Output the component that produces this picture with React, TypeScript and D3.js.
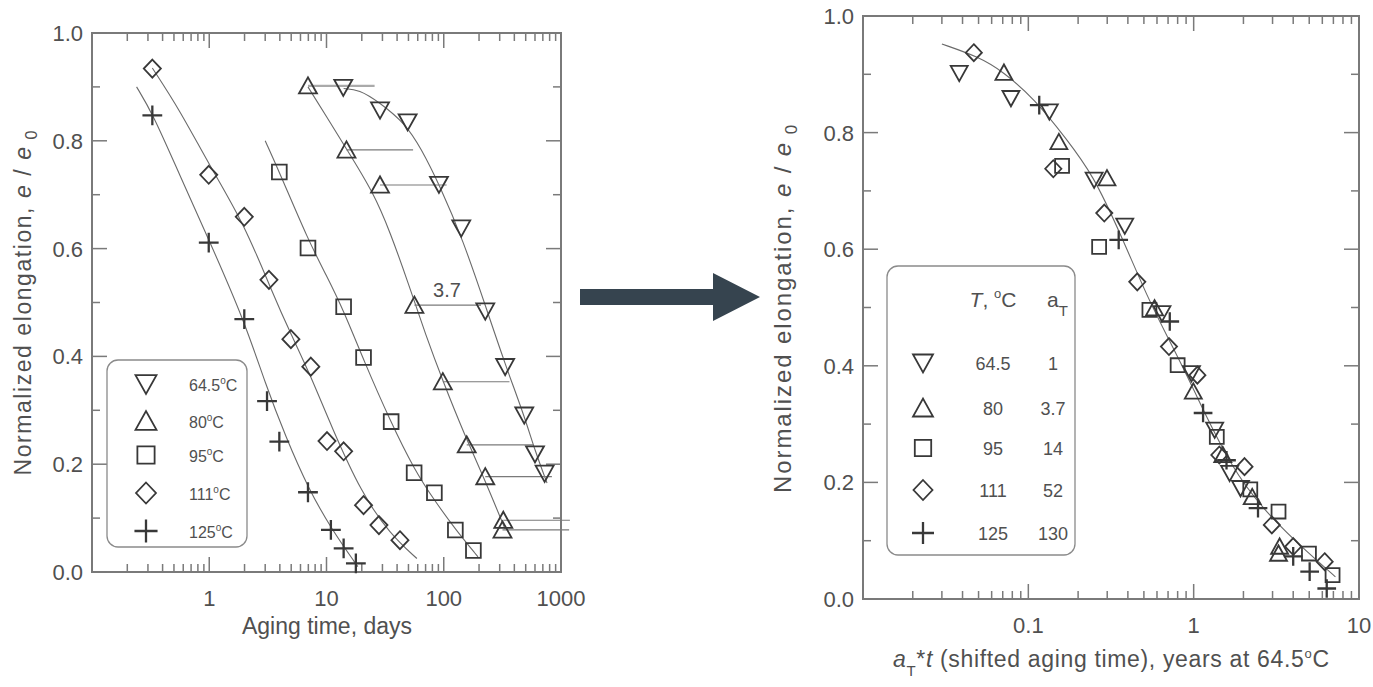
import * as d3 from "d3";

type Pt = [number, number];

// legend rows
const temps = ["64.5", "80", "95", "111", "125"];
const shiftFactors = ["1", "3.7", "14", "52", "130"];
const symbolKinds = ["down", "up", "square", "diamond", "plus"];

// left panel: aging time (days) vs normalized elongation
const days645: Pt[] = [[13.9, 0.899], [28.6, 0.857], [49.2, 0.835], [91, 0.719], [141, 0.638], [226, 0.484], [334, 0.381], [486, 0.291], [600, 0.219], [725, 0.183]];
const days80: Pt[] = [[6.95, 0.902], [14.8, 0.783], [28.6, 0.718], [56.2, 0.495], [98.2, 0.353], [157, 0.236], [226, 0.177], [322, 0.096], [317, 0.078]];
const days95: Pt[] = [[3.96, 0.742], [6.95, 0.601], [14, 0.492], [20.7, 0.398], [35.6, 0.279], [55.9, 0.184], [83.2, 0.147], [125.6, 0.078], [179, 0.04]];
const days111: Pt[] = [[0.327, 0.934], [0.99, 0.737], [1.99, 0.659], [3.23, 0.542], [4.97, 0.432], [7.35, 0.381], [10.1, 0.243], [14, 0.224], [20.7, 0.124], [28, 0.087], [42.3, 0.059]];
const days125: Pt[] = [[0.327, 0.847], [0.99, 0.611], [1.99, 0.469], [3.11, 0.317], [3.96, 0.242], [6.95, 0.148], [10.9, 0.078], [14, 0.044], [17.8, 0.016]];

// fitted curves on the left panel
const fit645: Pt[] = [[14, 0.897], [19, 0.895], [28, 0.872], [47, 0.832], [64, 0.786], [92, 0.718], [146, 0.616], [230, 0.49], [334, 0.385], [486, 0.29], [600, 0.225], [760, 0.165]];
const fit80: Pt[] = [[6.95, 0.9], [10, 0.845], [14.8, 0.785], [25, 0.705], [35, 0.63], [50, 0.535], [70, 0.44], [100, 0.35], [150, 0.255], [220, 0.175], [333, 0.08]];
const fit95: Pt[] = [[3, 0.8], [4, 0.74], [7, 0.615], [10, 0.55], [14, 0.485], [21, 0.39], [35, 0.28], [56, 0.19], [85, 0.13], [125, 0.08], [196, 0.028]];
const fit111: Pt[] = [[0.327, 0.935], [0.56, 0.857], [1, 0.755], [2, 0.645], [3.5, 0.515], [5, 0.44], [7.3, 0.365], [11, 0.27], [20, 0.145], [35, 0.07], [59, 0.025]];
const fit125: Pt[] = [[0.24, 0.9], [0.33, 0.85], [0.55, 0.74], [1, 0.615], [2, 0.465], [3, 0.35], [4.5, 0.25], [7, 0.155], [11, 0.08], [18.5, 0.01]];

// right panel: shifted aging time (years at 64.5 C)
const years645: Pt[] = [[0.0382, 0.902], [0.0785, 0.859], [0.134, 0.836], [0.25, 0.719], [0.383, 0.64], [0.643, 0.49], [0.97, 0.387], [1.34, 0.29], [1.65, 0.216], [1.92, 0.19]];
const years80: Pt[] = [[0.0712, 0.903], [0.153, 0.784], [0.299, 0.722], [0.58, 0.499], [0.995, 0.356], [1.5, 0.247], [2.26, 0.175], [3.31, 0.09], [3.26, 0.078]];
const years95: Pt[] = [[0.16, 0.743], [0.268, 0.604], [0.54, 0.496], [0.8, 0.401], [1.38, 0.278], [2.2, 0.188], [3.26, 0.15], [4.98, 0.078], [6.92, 0.041]];
const years111: Pt[] = [[0.0468, 0.937], [0.1416, 0.738], [0.288, 0.662], [0.456, 0.544], [0.709, 0.433], [1.053, 0.384], [1.43, 0.247], [2.03, 0.227], [2.97, 0.127], [4.0, 0.09], [6.2, 0.064]];
const years125: Pt[] = [[0.1164, 0.847], [0.352, 0.616], [0.717, 0.476], [1.14, 0.319], [1.58, 0.238], [2.45, 0.156], [4.0, 0.073], [5.03, 0.047], [6.38, 0.018]];
const masterFit: Pt[] = [[0.03, 0.952], [0.05, 0.93], [0.07, 0.905], [0.109, 0.858], [0.169, 0.79], [0.246, 0.728], [0.36, 0.627], [0.53, 0.515], [0.7, 0.448], [0.97, 0.368], [1.67, 0.225], [2.9, 0.14], [4.98, 0.078], [7.2, 0.038]];

const leftXLabels = [1, 10, 100, 1000];
const rightXLabels = [0.1, 1, 10];
const yLabels = [0, 0.2, 0.4, 0.6, 0.8, 1.0];
const shift80 = 3.7;

const FONT = "'Liberation Sans', Arial, sans-serif";
const TXT = "#505050";
const MARK = "#383838";

const leftSeries = [days645, days80, days95, days111, days125];
const leftFits = [fit645, fit80, fit95, fit111, fit125];
const rightSeries = [years645, years80, years95, years111, years125];

function markerPath(kind: string, s: number) {
  const h = s / 2;
  switch (kind) {
    case "down":
      return `M${-h},${-h * 0.85}L${h},${-h * 0.85}L0,${h * 0.95}Z`;
    case "up":
      return `M${-h},${h * 0.85}L${h},${h * 0.85}L0,${-h * 0.95}Z`;
    case "square": {
      const q = h * 0.82;
      return `M${-q},${-q}H${q}V${q}H${-q}Z`;
    }
    case "diamond":
      return `M0,${-h}L${h * 0.95},0L0,${h}L${-h * 0.95},0Z`;
    default: {
      const q = h * 1.1;
      return `M${-q},0H${q}M0,${-q}V${q}`;
    }
  }
}

function Marker({ kind, x, y, s = 18 }: { kind: string; x: number; y: number; s?: number }) {
  return (
    <path
      d={markerPath(kind, s)}
      transform={`translate(${x},${y})`}
      fill="none"
      stroke={MARK}
      strokeWidth={kind === "plus" ? 2.3 : 1.8}
      strokeLinejoin="miter"
    />
  );
}

function Frame({ x, y, labels, major = 15, minor = 8, labelDy }: any) {
  const [x0, x1] = x.range();
  const [y0, y1] = y.range(); // y0 bottom
  const isMajor = (v: number) => Math.abs(Math.log10(v) - Math.round(Math.log10(v))) < 1e-6;
  const xt = x.ticks();
  const yt = d3.range(0, 11).map((i) => i / 10);
  return (
    <g>
      <rect x={x0} y={y1} width={x1 - x0} height={y0 - y1} fill="none" stroke="#7a7a7a" strokeWidth={2} />
      {xt.map((v: number, i: number) => {
        const px = x(v);
        const L = isMajor(v) ? major : minor;
        return (
          <g key={"x" + i} stroke="#7a7a7a" strokeWidth={1.5}>
            <line x1={px} x2={px} y1={y0} y2={y0 - L} />
            <line x1={px} x2={px} y1={y1} y2={y1 + L} />
          </g>
        );
      })}
      {yt.map((v, i) => {
        const py = y(v);
        const L = i % 2 === 0 ? major : minor;
        return (
          <g key={"y" + i} stroke="#7a7a7a" strokeWidth={1.5}>
            <line x1={x0} x2={x0 + L} y1={py} y2={py} />
            <line x1={x1} x2={x1 - L} y1={py} y2={py} />
          </g>
        );
      })}
      {yLabels.map((v) => (
        <text key={"yl" + v} x={x0 - 9} y={y(v) + 8} textAnchor="end" fontSize={22} fill={TXT} fontFamily={FONT}>
          {d3.format(".1f")(v)}
        </text>
      ))}
      {labels.map((v: number) => (
        <text key={"xl" + v} x={x(v)} y={y0 + labelDy} textAnchor="middle" fontSize={22} fill={TXT} fontFamily={FONT}>
          {String(v)}
        </text>
      ))}
    </g>
  );
}

function YTitle({ x, y, len, size }: { x: number; y: number; len: number; size: number }) {
  return (
    <text
      transform={`translate(${x},${y}) rotate(-90)`}
      textAnchor="middle"
      fontSize={size}
      fill={TXT}
      fontFamily={FONT}
      textLength={len}
      lengthAdjust="spacing"
    >
      Normalized elongation, <tspan fontStyle="italic">e</tspan> / <tspan fontStyle="italic">e</tspan>
      <tspan dy={6} fontSize={size * 0.7}> 0</tspan>
    </text>
  );
}

export default function App() {
  const W = 1373;
  const H = 687;

  const xL = d3.scaleLog().domain([0.1, 1000]).range([92, 561]);
  const yL = d3.scaleLinear().domain([0, 1]).range([572, 33]);
  const xR = d3.scaleLog().domain([0.01, 10]).range([863, 1359]);
  const yR = d3.scaleLinear().domain([0, 1]).range([599, 16]);

  const lineL = d3.line<Pt>().x((d) => xL(d[0])).y((d) => yL(d[1])).curve(d3.curveBasis);
  const lineR = d3.line<Pt>().x((d) => xR(d[0])).y((d) => yR(d[1])).curve(d3.curveBasis);

  const legendRowsL = [384, 421, 455, 493, 531];
  const legendRowsR = [363, 408, 448, 490, 533];

  return (
    <svg width={W} height={H} style={{ position: "absolute", left: 0, top: 0, background: "#fff" }}>
      {/* ---------- left panel ---------- */}
      <Frame x={xL} y={yL} labels={leftXLabels} labelDy={34} major={15} minor={8} />
      {leftFits.map((c, i) => (
        <path key={"fl" + i} d={lineL(c) || ""} fill="none" stroke="#6a6a6a" strokeWidth={1.1} />
      ))}
      {days80.map((d, i) => (
        <line
          key={"sh" + i}
          x1={xL(d[0])}
          x2={xL(d[0] * shift80)}
          y1={yL(d[1])}
          y2={yL(d[1])}
          stroke={i === 0 ? "#aaa" : "#7a7a7a"}
          strokeWidth={i === 0 ? 2.2 : 1.2}
        />
      ))}
      <text x={447} y={297} textAnchor="middle" fontSize={20} fill={TXT} fontFamily={FONT}>3.7</text>
      {leftSeries.map((s, i) =>
        s.map((d, j) => <Marker key={`ml${i}-${j}`} kind={symbolKinds[i]} x={xL(d[0])} y={yL(d[1])} />)
      )}
      <rect x={107} y={360} width={140} height={187} rx={11} fill="#fff" stroke="#8a8a8a" strokeWidth={1.3} />
      {temps.map((t, i) => (
        <g key={"lg" + i}>
          <Marker kind={symbolKinds[i]} x={146} y={legendRowsL[i]} s={21} />
          <text x={189} y={legendRowsL[i] + 7} fontSize={16} fill={TXT} fontFamily={FONT}>
            {t}
            <tspan dy={-7} fontSize={10}>o</tspan>
            <tspan dy={7}>C</tspan>
          </text>
        </g>
      ))}
      <YTitle x={31} y={303} len={345} size={23} />
      <text x={327} y={634} textAnchor="middle" fontSize={23} fill={TXT} fontFamily={FONT}>
        Aging time, days
      </text>

      {/* ---------- arrow ---------- */}
      <path d="M580,289 H713 V273 L760,297 L713,321 V305 H580 Z" fill="#36444f" />

      {/* ---------- right panel ---------- */}
      <Frame x={xR} y={yR} labels={rightXLabels} labelDy={34} major={15} minor={8} />
      <path d={lineR(masterFit) || ""} fill="none" stroke="#6a6a6a" strokeWidth={1.1} />
      {rightSeries.map((s, i) =>
        s.map((d, j) => <Marker key={`mr${i}-${j}`} kind={symbolKinds[i]} x={xR(d[0])} y={yR(d[1])} s={17} />)
      )}
      <rect x={887} y={266} width={188} height={289} rx={11} fill="#fff" stroke="#8a8a8a" strokeWidth={1.3} />
      <text x={993} y={307} textAnchor="middle" fontSize={21} fill={TXT} fontFamily={FONT}>
        <tspan fontStyle="italic">T</tspan>, <tspan dy={-9} fontSize={13}>o</tspan>
        <tspan dy={9}>C</tspan>
      </text>
      <text x={1047} y={307} fontSize={21} fill={TXT} fontFamily={FONT}>
        a<tspan dy={9} fontSize={15}>T</tspan>
      </text>
      {temps.map((t, i) => (
        <g key={"rg" + i}>
          <Marker kind={symbolKinds[i]} x={923} y={legendRowsR[i]} s={20} />
          <text x={993} y={legendRowsR[i] + 7} textAnchor="middle" fontSize={18} fill={TXT} fontFamily={FONT}>{t}</text>
          <text x={1053} y={legendRowsR[i] + 7} textAnchor="middle" fontSize={18} fill={TXT} fontFamily={FONT}>{shiftFactors[i]}</text>
        </g>
      ))}
      <YTitle x={791} y={309} len={368} size={24} />
      <text x={1111} y={667} textAnchor="middle" fontSize={23} fill={TXT} fontFamily={FONT} textLength={436} lengthAdjust="spacing">
        <tspan fontStyle="italic">a</tspan>
        <tspan dy={9} fontSize={15}>T</tspan>
        <tspan dy={-9}>*</tspan>
        <tspan fontStyle="italic">t</tspan> (shifted aging time), years at 64.5
        <tspan dy={-9} fontSize={13}>o</tspan>
        <tspan dy={9}>C</tspan>
      </text>
    </svg>
  );
}
